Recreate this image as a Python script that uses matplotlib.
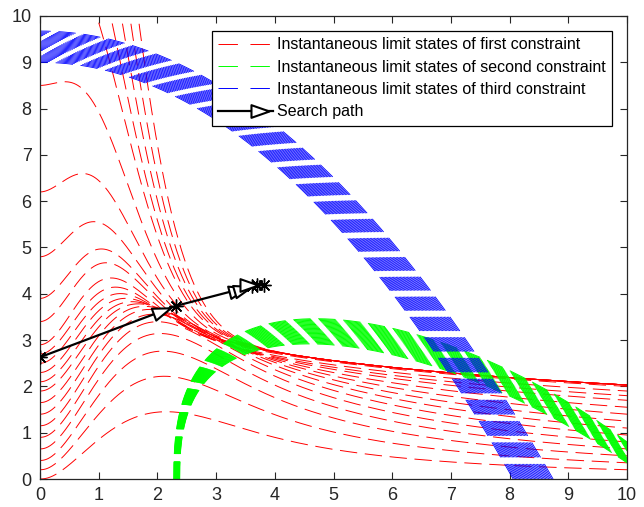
import numpy as np
import matplotlib
matplotlib.use('Agg')
import matplotlib.pyplot as plt
from matplotlib.lines import Line2D
from matplotlib.legend_handler import HandlerBase
from matplotlib.markers import MarkerStyle
from matplotlib.path import Path
from matplotlib.transforms import Affine2D

plt.rcParams['font.family'] = ['Liberation Sans', 'DejaVu Sans']
plt.rcParams['lines.scale_dashes'] = False

# ---- first constraint: instantaneous limit states (height at x1=0, height at x1=10)
red_start_low = [0.0, 0.2, 0.4, 0.65, 0.9, 1.15, 1.4, 1.65, 1.9, 2.1, 2.3, 2.5, 2.7, 2.9]
red_end_low = [0.2, 0.35, 0.5, 0.65, 0.8, 0.95, 1.1, 1.25, 1.4, 1.55, 1.7, 1.8, 1.9, 2.0]
red_start_high = [3.4, 3.9, 4.8, 6.2, 8.5, 11.5, 13.5, 16.0, 19.0, 23.0]
red_end_high = 2.03

# ---- second constraint: foot on the x1 axis, arch height, half width, tilt
# (values at the two ends of the time interval)
green_foot = [2.38, 2.28]
green_height = [4.98, 5.65]
green_width = [5.5, 5.5]
green_tilt = [0.567, 0.578]
n_green = 32

# ---- third constraint: x2 = (a - b*x1^2)/8 at the two ends of the time interval
blue_a = [72.0, 77.4]
blue_b = [1.108, 1.013]
n_blue = 30

# ---- search path
path_x = [0.0, 2.32, 3.62, 3.70, 3.82]
path_y = [2.63, 3.74, 4.17, 4.20, 4.20]

legend_labels = ['Instantaneous limit states of first constraint',
                 'Instantaneous limit states of second constraint',
                 'Instantaneous limit states of third constraint',
                 'Search path']

DASH = (0, (12.5, 5.5))
LEG_DASH = (0, (14, 9))
LW = 0.7

tri = Path([(1, 0), (-1, -0.7), (-1, 0.7), (1, 0)],
           [Path.MOVETO, Path.LINETO, Path.LINETO, Path.CLOSEPOLY])


def red_curve(x, y0, y10):
    s = min(y10 / red_end_high, 1.0)
    w = 2.2 - 1.2 * s
    p = 2.4 - 0.4 * s
    k = 0.38 + 1.76 * (1 - s) ** 1.3
    amp = y10 * 11 ** k / (1 - np.exp(-(10 / w) ** p))
    hump = amp * (1 - np.exp(-(x / w) ** p)) * (1 + x) ** (-k)
    return y0 * np.exp(-0.44 * x ** 2) + hump


def lerp(pair, f):
    return pair[0] + f * (pair[1] - pair[0])


class PathHandler(HandlerBase):
    def create_artists(self, legend, orig_handle, xdescent, ydescent,
                       width, height, fontsize, trans):
        y = (height - ydescent) / 2
        ln = Line2D([-xdescent, -xdescent + width], [y, y], color='black', lw=1.6)
        mk = Line2D([-xdescent + width - 9], [y], marker=tri, ms=13, mfc='white',
                    mec='black', mew=1.5, linestyle='none')
        ln.set_transform(trans)
        mk.set_transform(trans)
        return [ln, mk]


fig = plt.figure(figsize=(6.44, 5.07), dpi=100)
ax = fig.add_axes([40 / 644, 28 / 507, 587 / 644, 463 / 507])

x = np.linspace(0, 10, 900)
for y0, y10 in zip(red_start_low, red_end_low):
    ax.plot(x, red_curve(x, y0, y10), color='#ff0000', lw=LW, linestyle=DASH)
for y0 in red_start_high:
    ax.plot(x, red_curve(x, y0, red_end_high), color='#ff0000', lw=LW, linestyle=DASH)

for f in np.linspace(0, 1, n_green):
    x0 = lerp(green_foot, f)
    h = lerp(green_height, f)
    w = lerp(green_width, f)
    m = lerp(green_tilt, f)
    tau = np.linspace(0, np.arccos(1 - (10 - x0) / w), 1500)
    gx = x0 + w * (1 - np.cos(tau))
    gy = h * np.sin(tau) ** 0.8 - m * (gx - x0)
    ax.plot(gx, gy, color='#00ff00', lw=LW, linestyle=DASH)

for f in np.linspace(0, 1, n_blue):
    a = lerp(blue_a, f)
    b = lerp(blue_b, f)
    bx = np.linspace(np.sqrt(a / b), 0, 900)
    by = (a - b * bx ** 2) / 8
    ax.plot(bx, by, color='#0000ff', lw=0.6, linestyle=DASH)

ax.set_xlim(0, 10)
ax.set_ylim(0, 10)

# search path with arrow heads
ax.plot(path_x, path_y, color='black', lw=1.6, zorder=5)
ax.plot(path_x, path_y, linestyle='none', marker=(8, 2, 0), ms=10,
        color='black', mew=1.0, zorder=6)
fig.canvas.draw()
disp = ax.transData.transform(np.column_stack([path_x, path_y]))
for i in range(len(path_x) - 1):
    d = disp[i + 1] - disp[i]
    ang = np.degrees(np.arctan2(d[1], d[0]))
    tip = disp[i + 1] - 15 * d / np.hypot(*d)
    tx, ty = ax.transData.inverted().transform(tip)
    mk = MarkerStyle(tri, transform=Affine2D().rotate_deg(ang))
    ax.plot([tx], [ty], marker=mk, ms=13, mfc='white', mec='black', mew=1.5,
            linestyle='none', zorder=7)

for side in ['top', 'bottom', 'left', 'right']:
    ax.spines[side].set_color('#262626')
    ax.spines[side].set_linewidth(0.9)
ax.set_xticks(range(0, 11))
ax.set_yticks(range(0, 11))
ax.tick_params(direction='in', length=5, width=0.8, colors='#262626',
               labelsize=13, top=True, right=True, pad=6)

handles = [Line2D([], [], color='#ff0000', lw=LW, linestyle=LEG_DASH),
           Line2D([], [], color='#00ff00', lw=LW, linestyle=LEG_DASH),
           Line2D([], [], color='#0000ff', lw=LW, linestyle=LEG_DASH),
           Line2D([], [], color='black')]
leg = ax.legend(handles, legend_labels, loc='upper right',
                bbox_to_anchor=(0.974, 0.968), borderaxespad=0, fontsize=11.5,
                fancybox=False, framealpha=1, edgecolor='black',
                handlelength=3.4, handletextpad=0.25, labelspacing=0.46,
                borderpad=0.4, handler_map={handles[3]: PathHandler()})
leg.get_frame().set_linewidth(0.9)

fig.savefig('out.png', dpi=100)
